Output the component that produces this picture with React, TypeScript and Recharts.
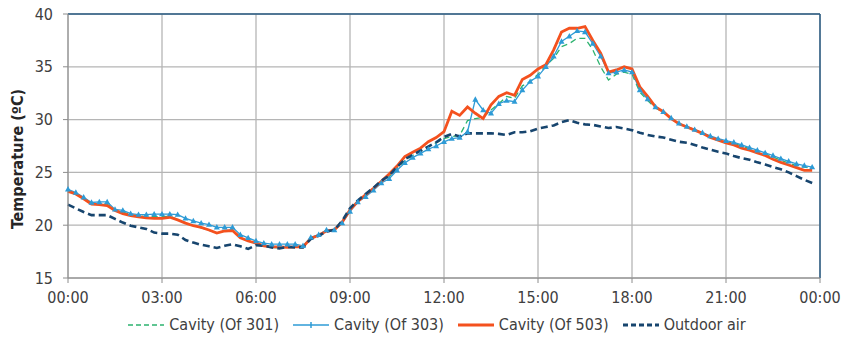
import { LineChart, Line, XAxis, YAxis, CartesianGrid, ReferenceLine } from "recharts";

// 15-minute readings, 00:00 .. 23:45
const cavity301 = [
  23.3, 23.0, 22.55, 22.05, 22.05, 22.0, 21.45, 21.25, 21.0, 20.9, 20.8, 20.8,
  20.8, 20.85, 20.55, 20.2, 19.95, 19.75, 19.5, 19.3, 19.45, 19.55, 18.85, 18.55,
  18.3, 18.05, 17.9, 17.85, 17.95, 18.0, 18.0, 18.8, 19.05, 19.5, 19.55, 20.25,
  21.4, 22.25, 22.8, 23.4, 24.05, 24.6, 25.4, 26.1, 26.6, 27.0, 27.5, 27.8,
  28.2, 28.4, 28.5, 29.9, 30.1, 30.2, 30.9, 31.5, 32.2, 32.0, 33.2, 33.6,
  34.3, 35.1, 35.8, 36.9, 37.2, 37.7, 37.7, 36.6, 35.0, 33.75, 34.3, 34.5,
  34.3, 32.6, 31.8, 31.1, 30.7, 30.1, 29.6, 29.3, 29.0, 28.7, 28.4, 28.15,
  27.9, 27.75, 27.5, 27.25, 27.0, 26.75, 26.45, 26.15, 25.9, 25.65, 25.5, 25.4,
];
const cavity303 = [
  23.4, 23.1, 22.65, 22.15, 22.2, 22.2, 21.5, 21.4, 21.1, 21.0, 21.0, 21.05,
  21.05, 21.05, 21.0, 20.65, 20.4, 20.2, 20.05, 19.8, 19.8, 19.8, 19.1, 18.8,
  18.5, 18.3, 18.2, 18.2, 18.2, 18.2, 18.05, 18.85, 19.1, 19.55, 19.55, 20.2,
  21.3, 22.2, 22.7, 23.3, 24.0, 24.4, 25.2, 25.9, 26.4, 26.8, 27.2, 27.5,
  27.9, 28.2, 28.3, 28.85, 31.9, 30.9, 30.6, 31.5, 31.8, 31.7, 32.8, 33.6,
  34.1, 35.0, 36.0, 37.4, 37.9, 38.4, 38.3, 37.2, 36.0, 34.4, 34.5, 34.7,
  34.5, 32.8, 31.95, 31.2, 30.75, 30.15, 29.65, 29.35, 29.05, 28.75, 28.45, 28.2,
  28.0, 27.85, 27.6, 27.35, 27.1, 26.85, 26.6, 26.3, 26.05, 25.8, 25.65, 25.5,
];
const cavity503 = [
  23.2, 22.95, 22.5, 22.0, 21.95, 21.85, 21.4, 21.1, 20.9, 20.8, 20.7, 20.65,
  20.65, 20.75, 20.5, 20.2, 19.95, 19.8, 19.55, 19.25, 19.45, 19.5, 18.8, 18.5,
  18.3, 18.05, 17.95, 17.95, 17.9, 17.95, 17.95, 18.75, 19.05, 19.45, 19.55, 20.3,
  21.45, 22.25, 22.9, 23.5, 24.15, 24.85, 25.6, 26.5, 26.9, 27.3, 27.9, 28.3,
  28.85, 30.8, 30.4, 31.2, 30.6, 30.1, 31.4, 32.2, 32.55, 32.3, 33.8, 34.2,
  34.8, 35.2, 36.6, 38.3, 38.65, 38.65, 38.8, 37.5, 36.3, 34.5, 34.7, 35.0,
  34.8, 33.1, 32.2, 31.2, 30.75, 30.1, 29.6, 29.3, 29.0, 28.7, 28.3, 28.05,
  27.8, 27.6, 27.3, 27.1, 26.85, 26.6, 26.25, 25.95, 25.7, 25.45, 25.2, 25.2,
];
const outdoorAir = [
  21.95, 21.6, 21.25, 20.95, 20.95, 20.95, 20.6, 20.25, 19.95, 19.8, 19.65, 19.3,
  19.2, 19.2, 19.1, 18.6, 18.35, 18.15, 18.0, 17.85, 18.05, 18.2, 18.0, 17.75,
  18.1, 18.05, 17.9, 17.8, 17.95, 17.9, 17.9, 18.7, 19.0, 19.4, 19.55, 20.4,
  21.6, 22.35, 22.95, 23.55, 24.2, 24.7, 25.5, 26.25, 26.65, 27.05, 27.45, 27.85,
  28.35, 28.65, 28.4, 28.7, 28.7, 28.7, 28.7, 28.65, 28.55, 28.8, 28.8, 28.9,
  29.15, 29.3, 29.45, 29.75, 29.95, 29.7, 29.55, 29.5, 29.35, 29.2, 29.3, 29.15,
  29.0, 28.75, 28.55, 28.4, 28.3, 28.1, 27.9, 27.8, 27.6, 27.35, 27.15, 26.95,
  26.8, 26.55, 26.35, 26.2, 25.95, 25.75, 25.5, 25.3, 25.0, 24.65, 24.3, 24.0,
];

const hourTicks = [0, 3, 6, 9, 12, 15, 18, 21, 24];
const tempTicks = [15, 20, 25, 30, 35, 40];

const data = cavity301.map((v, i) => ({
  hour: i / 4,
  c301: v,
  c303: cavity303[i],
  c503: cavity503[i],
  outdoor: outdoorAir[i],
}));

const FONT = "'DejaVu Sans Condensed', 'DejaVu Sans', sans-serif";
const TEXT = "#404040";

const fmtHour = (h: number) => `${String(h % 24).padStart(2, "0")}:00`;

const Triangle = (props: any) => {
  const { cx, cy, index } = props;
  if (cx == null || cy == null) return null;
  return (
    <path
      key={`tri-${index}`}
      d={`M${cx},${cy - 3.2} L${cx + 3},${cy + 2.2} L${cx - 3},${cy + 2.2} Z`}
      fill="#2E9BD6"
    />
  );
};

const legendItems = [
  { name: "Cavity (Of 301)", color: "#2DB36F", width: 1.5, dash: "5 3" },
  { name: "Cavity (Of 303)", color: "#2E9BD6", width: 1.5, dash: undefined, marker: true },
  { name: "Cavity (Of 503)", color: "#F4511E", width: 3, dash: undefined },
  { name: "Outdoor air", color: "#17456E", width: 3, dash: "5 3" },
];

const LegendBox = () => (
  <div
    style={{
      position: "absolute",
      left: 68,
      width: 752,
      top: 315,
      display: "flex",
      justifyContent: "center",
      alignItems: "center",
      fontFamily: FONT,
      fontSize: 16,
      color: TEXT,
    }}
  >
    {legendItems.map((it) => (
      <div key={it.name} style={{ display: "flex", alignItems: "center", marginRight: 14 }}>
        <svg width={36} height={10} style={{ marginRight: 5 }}>
          <line x1={0} y1={5} x2={36} y2={5} stroke={it.color} strokeWidth={it.width} strokeDasharray={it.dash} />
          {it.marker && <line x1={18} y1={2} x2={18} y2={8} stroke={it.color} strokeWidth={1.5} />}
        </svg>
        <span>{it.name}</span>
      </div>
    ))}
  </div>
);

export default function App() {
  return (
    <div style={{ position: "absolute", left: 0, top: 0, width: 843, height: 348, background: "#fff" }}>
      <LineChart width={843} height={348} data={data} margin={{ top: 14, right: 23, bottom: 0, left: 0 }}>
        <CartesianGrid stroke="#b5b5b5" strokeWidth={1.3} />
        <XAxis
          dataKey="hour"
          type="number"
          domain={[0, 24]}
          ticks={hourTicks}
          tickFormatter={fmtHour}
          interval={0}
          stroke="#8c8c8c"
          tickSize={5}
          tickMargin={9}
          height={70}
          tick={{ fontSize: 16, fill: TEXT, fontFamily: FONT }}
        />
        <YAxis
          type="number"
          domain={[15, 40]}
          ticks={tempTicks}
          interval={0}
          width={68}
          stroke="#8c8c8c"
          tickSize={5}
          tickMargin={10}
          tick={{ fontSize: 16, fill: TEXT, fontFamily: FONT }}
          label={{
            content: () => (
              <text
                transform="translate(23,159) rotate(-90)"
                textAnchor="middle"
                fontFamily={FONT}
                fontWeight="bold"
                fontSize={16}
                fill="#262626"
              >
                Temperature (ºC)
              </text>
            ),
          }}
        />
        <ReferenceLine y={40} stroke="#2A5C85" strokeWidth={1.5} />
        <ReferenceLine x={24} stroke="#2A5C85" strokeWidth={1.5} />
        <Line
          dataKey="c301"
          name="Cavity (Of 301)"
          stroke="#2DB36F"
          strokeWidth={1.3}
          strokeDasharray="6 4"
          dot={false}
          isAnimationActive={false}
        />
        <Line
          dataKey="c303"
          name="Cavity (Of 303)"
          stroke="#2E9BD6"
          strokeWidth={1.3}
          dot={Triangle}
          isAnimationActive={false}
        />
        <Line
          dataKey="c503"
          name="Cavity (Of 503)"
          stroke="#F4511E"
          strokeWidth={2.8}
          dot={false}
          isAnimationActive={false}
        />
        <Line
          dataKey="outdoor"
          name="Outdoor air"
          stroke="#17456E"
          strokeWidth={2.6}
          strokeDasharray="7 4"
          dot={false}
          isAnimationActive={false}
        />
      </LineChart>
      <LegendBox />
    </div>
  );
}
